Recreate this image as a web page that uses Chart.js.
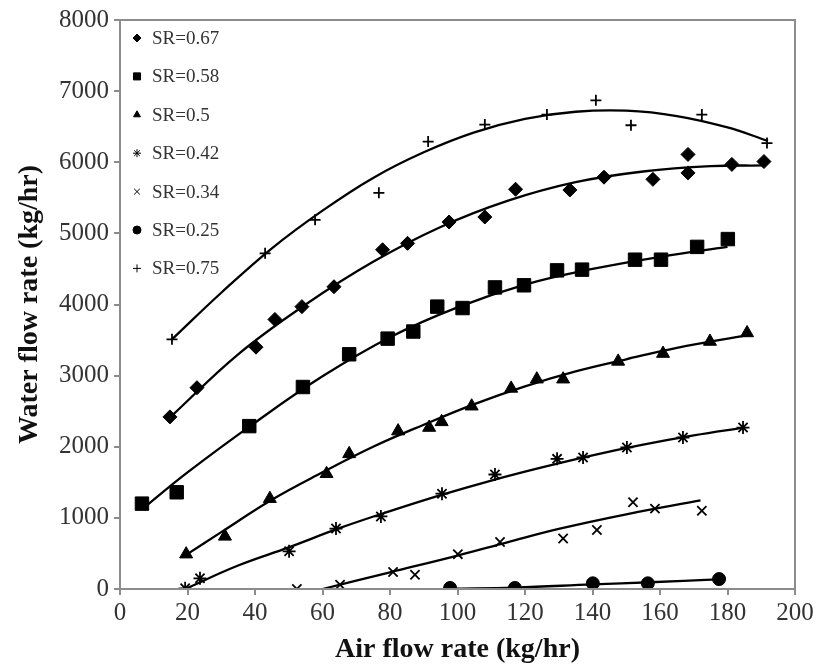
<!DOCTYPE html>
<html>
<head>
<meta charset="utf-8">
<script src="https://cdn.jsdelivr.net/npm/chart.js@4.4.1/dist/chart.umd.min.js"></script>
<style>
  html, body { margin: 0; padding: 0; background: #fff; }
  #wrap { width: 819px; height: 668px; }
</style>
</head>
<body>
<div id="wrap"><canvas id="chart" width="819" height="668"></canvas></div>
<script>
const labels = ["SR=0.67", "SR=0.58", "SR=0.5", "SR=0.42", "SR=0.34", "SR=0.25", "SR=0.75"];

const air067 = [14.8, 22.8, 40.3, 45.9, 53.9, 63.4, 77.8, 85.2, 97.5, 108.1, 117.2, 133.3, 143.4, 157.9, 168.3, 168.3, 181.3, 190.8];
const water067 = [2420, 2830, 3400, 3790, 3970, 4250, 4770, 4860, 5160, 5230, 5620, 5610, 5790, 5760, 6110, 5850, 5970, 6010];

const air058 = [6.5, 16.8, 38.3, 54.2, 67.9, 79.3, 86.9, 94, 101.5, 111.1, 119.7, 129.5, 136.9, 152.6, 160.3, 171, 180.1];
const water058 = [1200, 1360, 2290, 2840, 3300, 3520, 3620, 3970, 3950, 4240, 4270, 4480, 4490, 4630, 4630, 4810, 4920];

const air050 = [19.6, 31.1, 44.4, 61.2, 67.9, 82.4, 91.6, 95.3, 104.2, 115.9, 123.5, 131.3, 147.6, 160.9, 174.8, 185.8];
const water050 = [490, 740, 1270, 1620, 1900, 2220, 2270, 2350, 2570, 2820, 2950, 2950, 3200, 3310, 3480, 3600];

const air042 = [19.3, 23.7, 50.1, 64, 77.3, 95.4, 111.1, 129.5, 137.2, 150.2, 166.8, 184.6];
const water042 = [10, 150, 530, 850, 1020, 1340, 1610, 1830, 1850, 1990, 2130, 2270];

const air034 = [52.4, 65.2, 80.9, 87.4, 100.1, 112.6, 131.3, 141.3, 152, 158.5, 172.4];
const water034 = [0, 60, 240, 200, 490, 660, 710, 830, 1220, 1130, 1100];

const air025 = [97.8, 117, 140.1, 156.4, 177.5];
const water025 = [15, 15, 80, 80, 140];

const air075 = [15.4, 43, 57.8, 76.7, 91.3, 108.1, 126.5, 141, 151.4, 172.4, 191.7];
const water075 = [3510, 4720, 5190, 5570, 6290, 6530, 6670, 6870, 6520, 6670, 6270];

// trend lines
const fitAir067 = [15, 35, 55, 75, 95, 115, 135, 155, 175, 191];
const fitWater067 = [2420, 3300, 4000, 4600, 5090, 5460, 5720, 5870, 5945, 5955];

const fitAir058 = [6.5, 20, 40, 60, 80, 100, 120, 140, 160, 180];
const fitWater058 = [1120, 1640, 2340, 2990, 3540, 3960, 4280, 4500, 4670, 4810];

const fitAir050 = [19.6, 30, 45, 60, 75, 90, 105, 120, 135, 150, 165, 186];
const fitWater050 = [480, 800, 1255, 1640, 2000, 2310, 2600, 2850, 3060, 3230, 3390, 3570];

const fitAir042 = [19.3, 35, 50, 65, 80, 95, 110, 125, 140, 155, 170, 185];
const fitWater042 = [0, 330, 585, 855, 1095, 1320, 1525, 1710, 1880, 2030, 2160, 2270];

const fitAir034 = [60, 80, 100, 115, 130, 150, 172];
const fitWater034 = [0, 235, 470, 660, 845, 1050, 1245];

const fitAir025 = [98, 117, 140, 157, 177];
const fitWater025 = [5, 20, 65, 95, 135];

const fitAir075 = [15.4, 30, 45, 60, 75, 90, 105, 120, 135, 150, 165, 180, 192];
const fitWater075 = [3510, 4165, 4790, 5320, 5780, 6140, 6420, 6610, 6710, 6725, 6650, 6490, 6300];

const xTicks = [0, 20, 40, 60, 80, 100, 120, 140, 160, 180, 200];
const yTicks = [0, 1000, 2000, 3000, 4000, 5000, 6000, 7000, 8000];

const zip = (xs, ys) => xs.map((x, i) => ({ x: x, y: ys[i] }));

const markers = [
  { air: air067, water: water067, style: "rectRot", r: 7 },
  { air: air058, water: water058, style: "rect", r: 9.5 },
  { air: air050, water: water050, style: "triangle", r: 7.5 },
  { air: air042, water: water042, style: "star", r: 6.5 },
  { air: air034, water: water034, style: "crossRot", r: 6.5 },
  { air: air025, water: water025, style: "circle", r: 6.5 },
  { air: air075, water: water075, style: "cross", r: 5.5 },
];
const fits = [
  [fitAir067, fitWater067], [fitAir058, fitWater058], [fitAir050, fitWater050],
  [fitAir042, fitWater042], [fitAir034, fitWater034], [fitAir025, fitWater025],
  [fitAir075, fitWater075],
];

const datasets = [];
fits.forEach((f) => {
  datasets.push({
    type: "line",
    data: zip(f[0], f[1]),
    borderColor: "#000",
    borderWidth: 2.3,
    pointRadius: 0,
    tension: 0.4,
    fill: false,
    isFit: true,
  });
});
markers.forEach((m, i) => {
  datasets.push({
    type: "scatter",
    label: labels[i],
    data: zip(m.air, m.water),
    pointStyle: m.style,
    pointRadius: m.r,
    pointBackgroundColor: "#000",
    pointBorderColor: "#000",
    pointBorderWidth: m.style === "cross" || m.style === "crossRot" || m.style === "star" ? 1.8 : 1,
    showLine: false,
  });
});

// gray box round the plot
const frame = {
  id: "frame",
  afterDraw(chart) {
    const a = chart.chartArea, ctx = chart.ctx;
    ctx.save();
    ctx.strokeStyle = "#8c8c8c";
    ctx.lineWidth = 2;
    ctx.strokeRect(a.left, a.top, a.right - a.left, a.bottom - a.top);
    ctx.restore();
  },
};

// legend sits inside the plot, top left
const innerLegend = {
  id: "innerLegend",
  afterDraw(chart) {
    const ctx = chart.ctx;
    const x0 = chart.chartArea.left + 17, y0 = 38, step = 38.4;
    ctx.save();
    ctx.font = "19px 'Liberation Serif', 'Times New Roman', serif";
    ctx.textBaseline = "middle";
    let k = 0;
    chart.data.datasets.forEach((ds) => {
      if (ds.isFit) return;
      const y = y0 + k * step;
      ctx.fillStyle = "#000";
      ctx.strokeStyle = "#000";
      Chart.helpers.drawPoint(ctx, {
        pointStyle: ds.pointStyle,
        radius: ds.pointStyle === "rect" ? 5 : 4,
        rotation: 0,
        borderWidth: 1.2,
      }, x0, y);
      ctx.fillStyle = "#333";
      ctx.fillText(ds.label, x0 + 15, y + 1);
      k++;
    });
    ctx.restore();
  },
};

new Chart(document.getElementById("chart"), {
  data: { datasets: datasets },
  plugins: [frame, innerLegend],
  options: {
    responsive: false,
    animation: false,
    layout: { padding: { top: 17, right: 24, left: 0, bottom: 0 } },
    plugins: { legend: { display: false }, tooltip: { enabled: false } },
    scales: {
      x: {
        type: "linear",
        min: 0,
        max: 200,
        afterFit: (s) => { s.height = 79; },
        afterBuildTicks: (s) => { s.ticks = xTicks.map((v) => ({ value: v })); },
        grid: { drawOnChartArea: false, drawTicks: true, tickLength: 6, color: "#8c8c8c", lineWidth: 2 },
        border: { color: "#8c8c8c", width: 2 },
        ticks: { color: "#333", padding: 3, font: { family: "'Liberation Serif', serif", size: 25 }, callback: (v) => String(v) },
        title: {
          display: true,
          text: "Air flow rate (kg/hr)",
          color: "#111",
          padding: { top: 0, bottom: 1 },
          font: { family: "'Liberation Serif', serif", size: 28, weight: "bold" },
        },
      },
      y: {
        type: "linear",
        min: 0,
        max: 8000,
        afterFit: (s) => { s.width = 120; },
        afterBuildTicks: (s) => { s.ticks = yTicks.map((v) => ({ value: v })); },
        grid: { drawOnChartArea: false, drawTicks: true, tickLength: 6, color: "#8c8c8c", lineWidth: 2 },
        border: { color: "#8c8c8c", width: 2 },
        ticks: { color: "#333", padding: 5, font: { family: "'Liberation Serif', serif", size: 25 }, callback: (v) => String(v) },
        title: {
          display: true,
          text: "Water flow rate (kg/hr)",
          color: "#111",
          padding: { top: 13, bottom: 0 },
          font: { family: "'Liberation Serif', serif", size: 28, weight: "bold" },
        },
      },
    },
  },
});
</script>
</body>
</html>
